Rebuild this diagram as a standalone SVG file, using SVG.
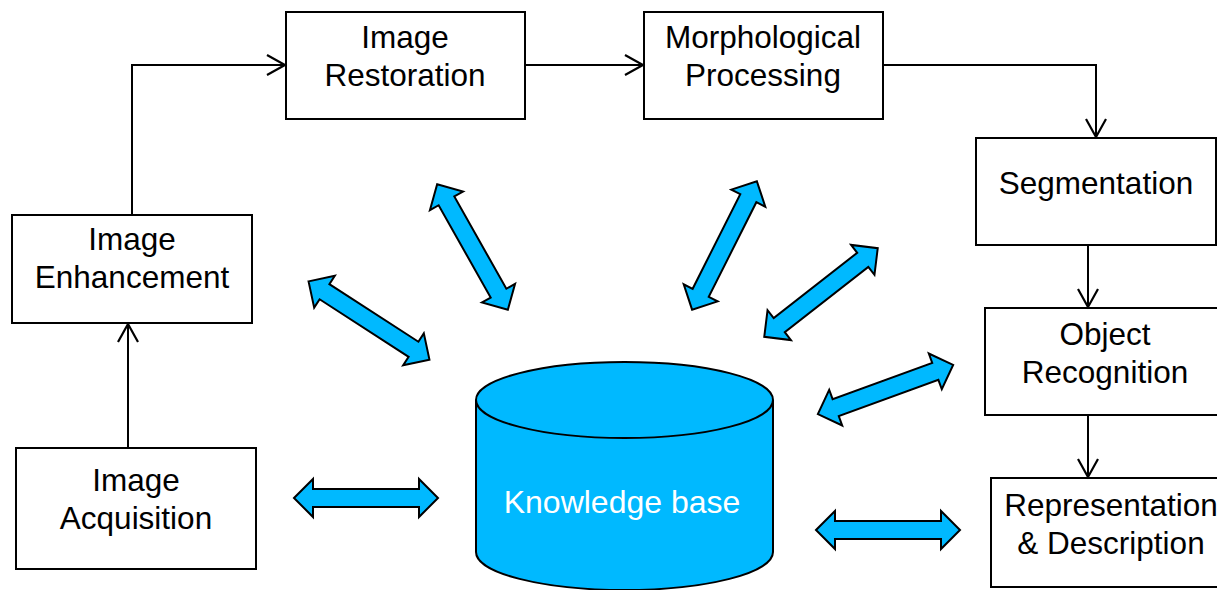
<svg xmlns="http://www.w3.org/2000/svg" xmlns:xlink="http://www.w3.org/1999/xlink" width="1217" height="590" viewBox="0 0 1217 590">
  <style>
    .box { fill: #ffffff; stroke: #000000; stroke-width: 2; }
    .lbl { font-family: "Liberation Sans", Arial, sans-serif; font-size: 31.5px; fill: #000000; text-anchor: middle; }
    .kb { font-family: "Liberation Sans", Arial, sans-serif; font-size: 32px; fill: #ffffff; text-anchor: middle; }
    .flow { fill: none; stroke: #000000; stroke-width: 2; marker-end: url(#open); }
    .dbl { fill: #00B9FF; stroke: #000000; stroke-width: 2; stroke-linejoin: miter; }
    .cyl { fill: #00B9FF; stroke: #000000; stroke-width: 2; }
  </style>
  <defs>
    <marker id="open" markerUnits="userSpaceOnUse" markerWidth="24" markerHeight="24" viewBox="-20 -12 24 24" refX="0" refY="0" orient="auto">
      <path d="M-18,-10 L0,0 L-18,10" fill="none" stroke="#000000" stroke-width="2.2"/>
    </marker>
    <!-- block double arrow, 144 long, centred on the origin -->
    <path id="dbl" d="M-72,0 L-53,-19 L-53,-9 L53,-9 L53,-19 L72,0 L53,19 L53,9 L-53,9 L-53,19 Z"/>
  </defs>

  <rect width="1217" height="590" fill="#ffffff"/>

  <!-- knowledge base cylinder -->
  <g id="knowledge-base">
    <path class="cyl" d="M476,400 L476,552 A148.5,38 0 0 0 773,552 L773,400"/>
    <ellipse class="cyl" cx="624.5" cy="400" rx="148.5" ry="38"/>
    <text class="kb" x="622" y="513">Knowledge base</text>
  </g>

  <!-- processing stages -->
  <g id="image-acquisition">
    <rect class="box" x="16" y="448" width="240" height="121"/>
    <text class="lbl" x="136" y="491">Image</text>
    <text class="lbl" x="136" y="529">Acquisition</text>
  </g>
  <g id="image-enhancement">
    <rect class="box" x="12" y="215" width="240" height="108"/>
    <text class="lbl" x="132" y="250">Image</text>
    <text class="lbl" x="132" y="288">Enhancement</text>
  </g>
  <g id="image-restoration">
    <rect class="box" x="286" y="12" width="239" height="107"/>
    <text class="lbl" x="405" y="48">Image</text>
    <text class="lbl" x="405" y="86">Restoration</text>
  </g>
  <g id="morphological-processing">
    <rect class="box" x="644" y="12" width="239" height="107"/>
    <text class="lbl" x="763" y="48">Morphological</text>
    <text class="lbl" x="763" y="86">Processing</text>
  </g>
  <g id="segmentation">
    <rect class="box" x="976" y="138" width="240" height="107"/>
    <text class="lbl" x="1096" y="194">Segmentation</text>
  </g>
  <g id="object-recognition">
    <rect class="box" x="985" y="308" width="245" height="107"/>
    <text class="lbl" x="1105" y="345">Object</text>
    <text class="lbl" x="1105" y="383">Recognition</text>
  </g>
  <g id="representation-description">
    <rect class="box" x="991" y="478" width="245" height="109"/>
    <text class="lbl" x="1111" y="516">Representation</text>
    <text class="lbl" x="1111" y="554">&amp; Description</text>
  </g>

  <!-- connectors -->
  <g id="connectors">
    <path class="flow" d="M128,448 L128,324"/>
    <path class="flow" d="M132,215 L132,65 L285,65"/>
    <path class="flow" d="M525,65 L643,65"/>
    <path class="flow" d="M883,65 L1096,65 L1096,137"/>
    <path class="flow" d="M1088,245 L1088,307"/>
    <path class="flow" d="M1088,415 L1088,477"/>

    <!-- links to the knowledge base -->
    <use xlink:href="#dbl" class="dbl" transform="translate(366,498)"/>
    <use xlink:href="#dbl" class="dbl" transform="translate(369,320.5) rotate(32.9)"/>
    <use xlink:href="#dbl" class="dbl" transform="translate(472.5,247) rotate(60.6)"/>
    <use xlink:href="#dbl" class="dbl" transform="translate(724.5,245.5) rotate(-63.3)"/>
    <use xlink:href="#dbl" class="dbl" transform="translate(821,292.5) rotate(-38)"/>
    <use xlink:href="#dbl" class="dbl" transform="translate(885.5,389.5) rotate(-20)"/>
    <use xlink:href="#dbl" class="dbl" transform="translate(888,530)"/>
  </g>
</svg>
